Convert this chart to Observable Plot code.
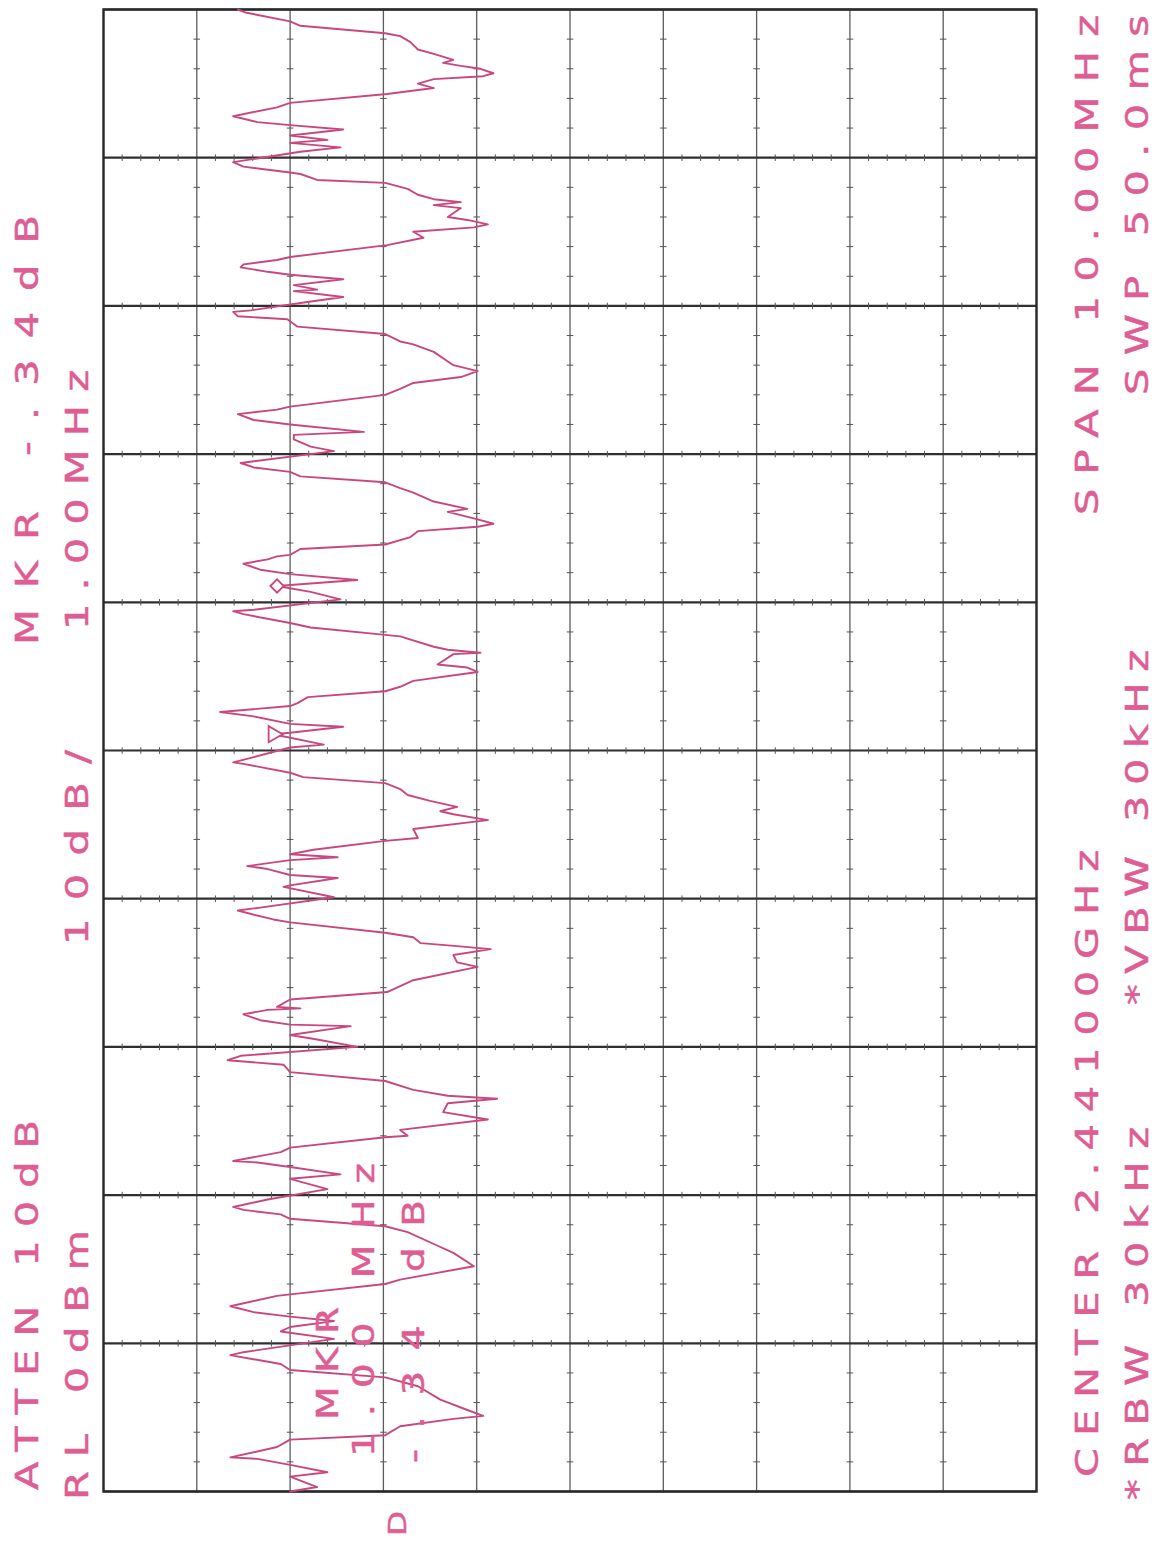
<!DOCTYPE html>
<html><head><meta charset="utf-8">
<script src="https://cdn.jsdelivr.net/npm/d3@7"></script>
<script src="https://cdn.jsdelivr.net/npm/@observablehq/plot@0.6"></script>
<style>
html,body{margin:0;padding:0;background:#fff;width:1167px;height:1550px;overflow:hidden;}
#rot{position:absolute;left:0;top:0;width:1550px;height:1167px;transform-origin:0 0;transform:translate(0px,1550px) rotate(-90deg);}
#rot svg{position:absolute;left:0;top:0;}
</style></head><body><div id="rot"></div>
<script>
// ---- data ----
const startMHz = 2436;          // left edge of the sweep (center 2441 MHz, span 10 MHz)
const freqOffsetMHz = [
0.00,0.03,0.10,0.13,0.18,0.22,0.23,0.30,0.35,0.38,0.44,0.49,0.51,0.55,0.62,0.71,0.77,0.82,0.86,0.92,0.94,
1.03,1.08,1.11,1.15,1.18,1.21,1.25,1.32,1.33,1.40,1.43,1.52,1.61,1.67,1.75,1.79,1.84,1.87,1.90,1.92,1.97,
2.04,2.11,2.14,2.19,2.22,2.23,2.29,2.32,2.39,2.40,2.44,2.51,2.56,2.62,2.65,2.67,2.71,2.77,2.83,2.88,2.91,2.94,
3.00,3.05,3.08,3.14,3.15,3.18,3.22,3.25,3.26,3.27,3.32,3.37,3.45,3.54,3.57,3.62,3.66,3.68,3.70,3.74,3.77,3.84,3.86,3.91,3.92,3.94,
4.01,4.08,4.09,4.14,4.16,4.20,4.22,4.26,4.28,4.30,4.33,4.39,4.41,4.47,4.53,4.57,4.59,4.62,4.66,4.70,4.74,4.78,4.82,4.85,4.91,4.92,4.95,
5.02,5.04,5.11,5.12,5.16,5.18,5.23,5.26,5.30,5.32,5.36,5.40,5.43,5.47,5.53,5.56,5.58,5.65,5.66,5.68,5.70,5.77,5.78,5.83,5.86,5.92,5.94,5.95,
6.02,6.07,6.11,6.15,6.19,6.22,6.26,6.29,6.31,6.32,6.36,6.39,6.44,6.48,6.51,6.53,6.56,6.61,6.63,6.68,6.74,6.77,6.81,6.85,6.88,6.91,6.94,
7.02,7.05,7.10,7.13,7.15,7.20,7.23,7.27,7.30,7.32,7.40,7.44,7.48,7.52,7.56,7.60,7.69,7.74,7.76,7.81,7.86,7.91,7.93,7.96,7.97,
8.02,8.06,8.10,8.11,8.14,8.18,8.21,8.23,8.26,8.28,8.31,8.33,8.41,8.46,8.50,8.53,8.55,8.58,8.60,8.66,8.68,8.70,8.72,8.75,8.79,8.83,8.85,8.89,8.90,8.94,8.97,
9.04,9.07,9.10,9.12,9.15,9.19,9.22,9.24,9.28,9.34,9.37,9.43,9.47,9.50,9.53,9.55,9.57,9.60,9.62,9.64,9.66,9.70,9.73,9.78,9.82,9.84,9.89,9.92,9.98,10.00
];
const levelDb = [
-20.0,-22.9,-20.0,-24.0,-20.0,-16.5,-13.6,-18.6,-20.0,-30.2,-31.8,-37.5,-40.7,-39.0,-36.1,-33.7,-30.2,-20.0,-19.0,-13.6,-15.0,
-24.7,-19.0,-20.0,-24.7,-20.0,-16.1,-13.6,-18.6,-20.0,-30.2,-31.8,-39.7,-37.5,-35.4,-32.6,-30.2,-20.0,-19.0,-15.0,-13.9,-17.6,
-24.0,-20.0,-25.4,-20.0,-16.5,-13.9,-19.0,-20.0,-30.2,-32.6,-31.8,-41.2,-36.4,-36.9,-42.2,-36.9,-33.2,-30.2,-20.0,-19.3,-13.3,-14.7,
-27.2,-22.9,-20.0,-26.5,-20.0,-16.8,-15.0,-17.6,-21.1,-18.6,-20.0,-30.4,-33.2,-40.1,-37.9,-37.5,-41.5,-37.9,-34.0,-33.2,-30.2,-20.0,-18.2,-15.0,-14.4,-16.8,
-24.7,-19.3,-20.0,-25.1,-20.0,-17.6,-15.4,-20.0,-25.1,-20.0,-22.5,-30.2,-33.7,-33.2,-41.2,-37.5,-36.1,-37.9,-35.0,-32.6,-31.8,-30.2,-21.4,-20.0,-15.0,-13.9,-15.8,
-20.0,-23.6,-18.2,-20.0,-25.7,-20.0,-16.1,-12.5,-20.0,-20.8,-21.9,-30.2,-31.8,-33.2,-40.1,-39.0,-35.8,-37.5,-40.4,-36.9,-35.4,-31.8,-30.2,-22.2,-20.0,-15.0,-13.9,-16.1,
-25.4,-22.2,-18.6,-27.2,-20.0,-16.8,-15.0,-17.6,-18.6,-20.0,-21.1,-30.2,-32.9,-33.7,-40.1,-41.8,-40.1,-36.9,-39.0,-35.4,-33.2,-31.8,-30.2,-21.1,-20.0,-16.1,-14.7,
-24.7,-22.2,-20.4,-20.4,-27.9,-20.0,-16.1,-14.4,-18.6,-20.0,-30.2,-31.8,-33.2,-38.3,-40.1,-37.5,-35.4,-33.2,-31.8,-30.2,-20.8,-19.7,-14.4,-13.9,-15.8,
-21.1,-25.7,-20.4,-22.9,-20.4,-25.7,-20.0,-17.6,-14.7,-15.0,-18.6,-20.0,-30.4,-34.3,-33.2,-39.7,-41.2,-39.0,-36.9,-38.3,-35.4,-38.3,-35.4,-33.7,-32.6,-30.2,-22.9,-21.1,-20.0,-15.0,-13.9,
-21.1,-25.4,-20.0,-24.0,-20.0,-25.7,-20.0,-16.5,-13.9,-18.6,-20.0,-30.4,-35.4,-33.7,-35.4,-40.7,-41.8,-40.4,-38.3,-36.4,-37.5,-35.4,-33.7,-32.9,-31.8,-30.2,-21.1,-20.0,-15.2,-14.4
];
const markerOffsetMHz = 6.11, markerDb = -18.6;   // active marker (diamond)
const refOffsetMHz = 5.11, refDb = -18.2;         // delta reference (triangle)
const freqDivisionsMHz = [0,1,2,3,4,5,6,7,8,9,10];
const dbDivisions = [0,-10,-20,-30,-40,-50,-60,-70,-80,-90,-100];
const headerTexts = ["ATTEN 10dB", "RL 0dBm", "10dB/", "MKR -.34dB", "1.00MHz"];
const footerTexts = ["CENTER 2.44100GHz", "SPAN 10.00MHz", "*RBW 30kHz", "*VBW 30kHz", "SWP 50.0ms"];
const markerTexts = ["MKR", "1.00 MHz", "-.34 dB"];
const sideText = ["D"];

// ---- chart (drawn in the analyser's own orientation, then turned a quarter turn) ----
const pink = "#c9477f", textPink = "#de5d93";
const trace = freqOffsetMHz.map((f, i) => ({f: startMHz + f, db: levelDb[i]}));
const minor = [];
for (const db of dbDivisions.slice(1, -1))
  for (let k = 1; k < 50; k++) if (k % 5) minor.push({x1: startMHz + k / 5, x2: startMHz + k / 5, y1: db - 0.35, y2: db + 0.35});
for (const f of freqDivisionsMHz.slice(1, -1))
  for (let k = 1; k < 50; k++) if (k % 5) minor.push({x1: startMHz + f - 0.022, x2: startMHz + f + 0.022, y1: -2 * k, y2: -2 * k});

const chart = Plot.plot({
  width: 1550, height: 1167,
  marginLeft: 58, marginRight: 10, marginTop: 103, marginBottom: 131,
  x: {domain: [startMHz, startMHz + 10], axis: null},
  y: {domain: [-100, 0], axis: null},
  style: {background: "transparent"},
  marks: [
    Plot.ruleY(dbDivisions, {stroke: "#5c5c5c", strokeWidth: 1.3}),
    Plot.ruleX(freqDivisionsMHz.map(f => startMHz + f), {stroke: "#2f2f2f", strokeWidth: 2.2}),
    Plot.link(minor, {x1: "x1", x2: "x2", y1: "y1", y2: "y2", stroke: "#555", strokeWidth: 1}),
    Plot.frame({stroke: "#2a2a2a", strokeWidth: 2.4}),
    Plot.line(trace, {x: "f", y: "db", stroke: pink, strokeWidth: 1.9, strokeLinejoin: "round"}),
    Plot.dot([{f: startMHz + markerOffsetMHz, db: markerDb}], {x: "f", y: "db", symbol: "diamond2", r: 6, stroke: pink, strokeWidth: 1.8, fill: "white"}),
    Plot.dot([{f: startMHz + refOffsetMHz, db: refDb}], {x: "f", y: "db", symbol: "triangle", rotate: 180, r: 6, stroke: pink, strokeWidth: 1.8, fill: "white"})
  ]
});
const rot = document.getElementById("rot");
rot.appendChild(chart);

// ---- annotation text (plotter lettering, widened glyphs) ----
const widen = 1.3;
const layout = [
  [headerTexts[0], 60, 38, 370, 32], [headerTexts[1], 50, 88, 270, 32], [headerTexts[2], 605, 88, 195, 32],
  [headerTexts[3], 905, 38, 430, 32], [headerTexts[4], 920, 88, 260, 32],
  [footerTexts[0], 73, 1098, 627, 32], [footerTexts[1], 1035, 1098, 500, 32],
  [footerTexts[2], 50, 1148, 373, 32], [footerTexts[3], 545, 1148, 355, 32], [footerTexts[4], 1155, 1148, 380, 32],
  [markerTexts[0], 130, 338, 113, 30], [markerTexts[1], 93, 374, 294, 30], [markerTexts[2], 87, 424, 263, 30],
  [sideText[0], 14, 406, 20, 25]
];
const svg = d3.select(rot).append("svg").attr("width", 1550).attr("height", 1167);
for (const [t, x, y, len, fs] of layout) {
  svg.append("text").attr("transform", `scale(${widen},1)`)
    .attr("x", x / widen).attr("y", y).attr("textLength", len / widen).attr("lengthAdjust", "spacing")
    .attr("font-family", "DejaVu Sans, sans-serif").attr("font-size", fs)
    .attr("fill", textPink).attr("stroke", textPink).attr("stroke-width", 0.5).text(t);
}
</script></body></html>
